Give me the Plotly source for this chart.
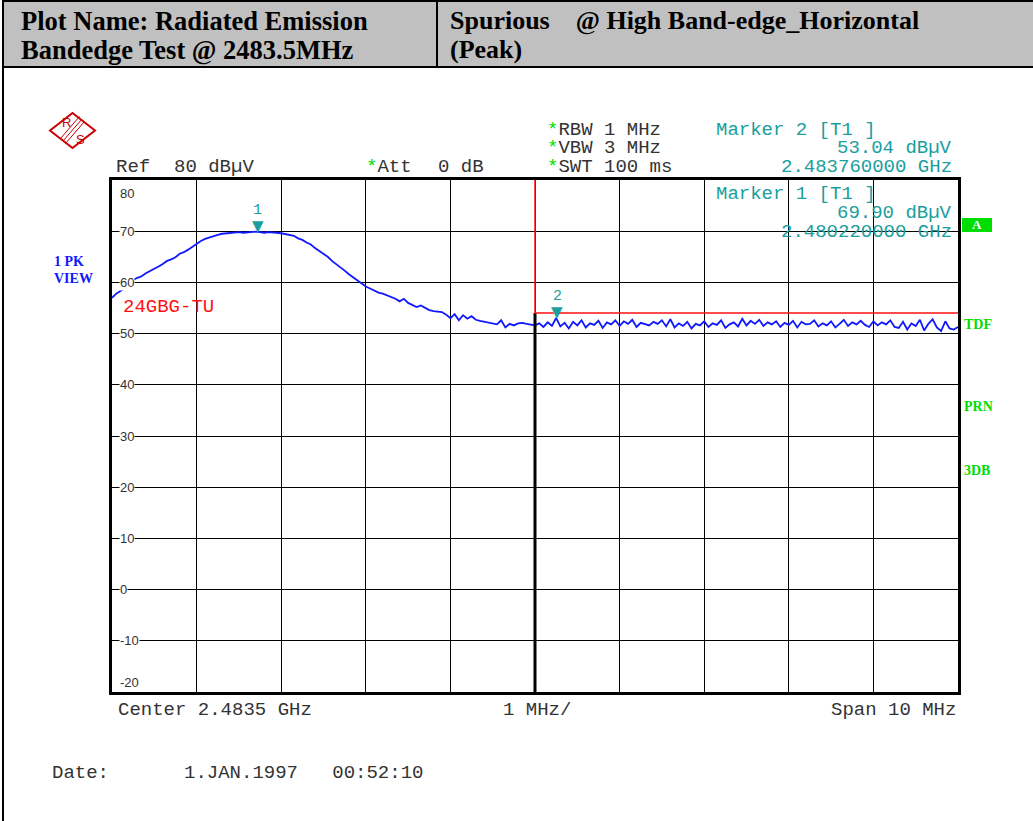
import numpy as np
import plotly.graph_objects as go

# ---------------- data ----------------
center_ghz = 2.4835
span_mhz = 10.0
ref_level = 80
y_min = -20
limit_level = 54.0
band_edge_ghz = 2.4835

# trace levels (dBuV), 201 sweep points, 0.05 MHz apart
levels = [
    57.0, 57.8, 58.3, 58.8, 59.9, 60.5, 60.9, 61.2, 61.8, 62.2, 62.7, 63.1, 63.6, 64.2, 64.5, 64.9, 65.6, 65.9, 66.4, 67.0,
    67.6, 68.1, 68.5, 68.8, 69.1, 69.3, 69.5, 69.6, 69.7, 69.8, 69.8, 69.7, 69.8, 69.8, 69.9, 69.8, 69.7, 69.8, 69.8, 69.7,
    69.6, 69.4, 69.3, 69.1, 68.6, 68.3, 67.8, 67.4, 66.7, 66.1, 65.6, 65.0, 64.2, 63.6, 62.9, 62.3, 61.6, 61.0, 60.4, 59.8,
    59.2, 58.8, 58.4, 58.0, 57.8, 57.5, 57.1, 56.8, 56.3, 56.8, 56.0, 55.6, 55.2, 55.5, 55.0, 54.6, 54.4, 54.3, 54.2, 53.7,
    53.0, 53.8, 52.6, 53.6, 52.9, 53.4, 52.7, 52.5, 52.3, 52.1, 52.0, 51.8, 52.6, 51.2, 51.9, 51.6, 52.0, 52.1, 51.9, 51.7,
    51.6, 52.0, 51.3, 52.2, 51.5, 53.04, 51.4, 52.1, 51.0, 52.3, 51.6, 52.6, 51.2, 52.0, 51.7, 52.5, 51.1, 52.2, 51.8, 52.6,
    51.5, 52.4, 51.9, 52.7, 51.3, 52.1, 51.8, 51.6, 52.3, 51.9, 52.6, 51.4, 52.8, 51.2, 52.0, 51.5, 52.3, 51.0, 51.9, 51.6,
    52.4, 51.3, 52.0, 51.7, 52.6, 51.1, 51.8, 52.2, 51.4, 52.9, 51.6, 52.5, 51.9, 52.7, 51.5, 52.2, 51.8, 52.4, 51.3, 52.1,
    51.7, 52.5, 51.2, 52.3, 51.8, 51.9, 52.6, 51.4, 52.0, 51.6, 52.4, 51.2, 51.9, 52.7, 51.5, 52.2, 51.8, 52.5, 51.7, 51.3,
    52.4, 51.6, 52.2, 51.8, 52.6, 51.3, 51.1, 52.3, 50.8, 52.0, 51.5, 52.7, 50.6, 51.9, 52.8, 51.2, 50.5, 52.4, 51.0, 50.8, 51.3,
]

marker_names = ["1", "2"]
marker_freq_ghz = [2.480220, 2.483760]
marker_level = [69.90, 53.04]

y_ticks = [80, 70, 60, 50, 40, 30, 20, 10, 0, -10, -20]

f_start = center_ghz - span_mhz / 2000
f_stop = center_ghz + span_mhz / 2000
freqs = np.linspace(f_start, f_stop, len(levels))

# ---------------- figure geometry ----------------
W, H = 1033, 821
PL, PR, PT, PB = 112, 958, 180, 692


def px(x):
    return x / W


def py(y):
    return 1 - y / H


TEAL = "#1a9e9e"
GREEN = "#00dd00"
GRAY = "#333333"
MONO = "Liberation Mono, Courier New, monospace"
SANS = "Liberation Sans, Arial, sans-serif"
SERIF = "Liberation Serif, Times New Roman, serif"

fig = go.Figure()

# spectrum trace
fig.add_trace(go.Scatter(x=freqs, y=levels, mode="lines",
                         line=dict(color="#1018ff", width=1.8), hoverinfo="skip"))

# display/limit lines
fig.add_trace(go.Scatter(x=[band_edge_ghz, band_edge_ghz], y=[y_min, limit_level], mode="lines",
                         line=dict(color="black", width=3), hoverinfo="skip"))
fig.add_trace(go.Scatter(x=[band_edge_ghz, band_edge_ghz, f_stop], y=[ref_level, limit_level, limit_level],
                         mode="lines", line=dict(color="#ff1010", width=1.5), hoverinfo="skip"))

fig.update_layout(
    width=W, height=H,
    margin=dict(l=0, r=0, t=0, b=0),
    paper_bgcolor="white", plot_bgcolor="white",
    showlegend=False,
    xaxis=dict(domain=[px(PL), px(PR)], range=[f_start, f_stop], dtick=0.001, tick0=f_start,
               showticklabels=False, ticks="", showgrid=True, gridcolor="black", gridwidth=1,
               zeroline=False, showline=True, linecolor="black", linewidth=3, mirror=True),
    yaxis=dict(domain=[py(PB), py(PT)], range=[y_min, ref_level], dtick=10, tick0=0,
               showticklabels=False, ticks="", showgrid=True, gridcolor="black", gridwidth=1,
               zeroline=False, showline=True, linecolor="black", linewidth=3, mirror=True),
)

shapes = []
# header box
shapes.append(dict(type="rect", xref="paper", yref="paper", x0=px(3), x1=px(1040), y0=py(67), y1=py(1),
                   fillcolor="#c0c0c0", line=dict(color="black", width=2), layer="below"))
shapes.append(dict(type="line", xref="paper", yref="paper", x0=px(437), x1=px(437), y0=py(67), y1=py(1),
                   line=dict(color="black", width=2)))
# page left border
shapes.append(dict(type="line", xref="paper", yref="paper", x0=px(3), x1=px(3), y0=py(830), y1=py(67),
                   line=dict(color="black", width=2)))
# R&S logo
cx, cy, hw, hh = 72.5, 130.5, 22.5, 17.5
path = (f"M {px(cx)} {py(cy-hh)} L {px(cx+hw)} {py(cy)} L {px(cx)} {py(cy+hh)} "
        f"L {px(cx-hw)} {py(cy)} Z")
shapes.append(dict(type="path", xref="paper", yref="paper", path=path,
                   line=dict(color="#cc0000", width=2)))
for d in (-2.5, 0, 2.5):
    shapes.append(dict(type="line", xref="paper", yref="paper",
                       x0=px(82 + d), y0=py(119 + d), x1=px(63 + d), y1=py(141 + d),
                       line=dict(color="#cc0000", width=1)))
# green "A" box
shapes.append(dict(type="rect", xref="paper", yref="paper", x0=px(962), x1=px(992), y0=py(232), y1=py(218),
                   fillcolor=GREEN, line=dict(width=0)))
fig.update_layout(shapes=shapes)

ann = []


def text(x, y, s, size=19, color=GRAY, font=MONO, xanchor="left", yanchor="middle", **kw):
    ann.append(dict(x=px(x), y=py(y), xref="paper", yref="paper", text=s, showarrow=False,
                    xanchor=xanchor, yanchor=yanchor, font=dict(family=font, size=size, color=color), **kw))


# header texts
text(19, 21, "<b>Plot Name: Radiated Emission</b>", size=26.5, color="black", font=SERIF)
text(19, 50, "<b>Bandedge Test @ 2483.5MHz</b>", size=26.5, color="black", font=SERIF)
text(448, 21, "<b>Spurious    @ High Band-edge_Horizontal</b>", size=26, color="black", font=SERIF)
text(448, 50, "<b>(Peak)</b>", size=26, color="black", font=SERIF)

# logo letters
text(66, 123, "R", size=13, color="#cc0000", font=SANS, xanchor="center")
text(80, 139, "S", size=13, color="#cc0000", font=SANS, xanchor="center")

# instrument settings
star = f"<span style='color:{GREEN}'>*</span>"
text(114, 167, "Ref")
text(172, 167, "80 dBµV")
text(364, 167, star + "Att")
text(436, 167, "0 dB")
text(545, 130, star + "RBW 1 MHz")
text(545, 148, star + "VBW 3 MHz")
text(545, 167, star + "SWT 100 ms")

# marker readouts
text(714, 130, "Marker 2 [T1 ]", color=TEAL)
text(954, 148, "53.04 dBµV", color=TEAL, xanchor="right")
text(954, 167, "2.483760000 GHz", color=TEAL, xanchor="right")
text(714, 194, "Marker 1 [T1 ]", color=TEAL)
text(954, 213, "69.90 dBµV", color=TEAL, xanchor="right")
text(954, 232, "2.480220000 GHz", color=TEAL, xanchor="right")

# left labels
text(52, 261, "<b>1 PK</b>", size=14, color="#1018ff", font=SERIF)
text(52, 278, "<b>VIEW</b>", size=14, color="#1018ff", font=SERIF)
text(121, 307, "24GBG-TU", color="#ff1010")

# right side labels
text(977, 225, "<b>A</b>", size=13, color="white", font=SERIF, xanchor="center")
text(962, 324, "<b>TDF</b>", size=14, color=GREEN, font=SERIF)
text(962, 406, "<b>PRN</b>", size=14, color=GREEN, font=SERIF)
text(962, 470, "<b>3DB</b>", size=14, color=GREEN, font=SERIF)

# bottom texts
text(116, 710, "Center 2.4835 GHz")
text(537, 710, "1 MHz/", xanchor="center")
text(958, 710, "Span 10 MHz", xanchor="right")
text(50, 773, "Date:")
text(182, 773, "1.JAN.1997   00:52:10")

# y tick labels inside plot
for v in y_ticks:
    shift = 0
    if v == ref_level:
        shift = -13
    elif v == y_min:
        shift = 10
    ann.append(dict(x=px(119), y=v, xref="paper", yref="y", text=str(v), showarrow=False,
                    xanchor="left", yanchor="middle", yshift=shift, bgcolor="white", borderpad=0,
                    font=dict(family=SANS, size=13, color=GRAY)))

# markers
for name, f, lv in zip(marker_names, marker_freq_ghz, marker_level):
    ann.append(dict(x=f, y=lv, xref="x", yref="y", text="▼", showarrow=False, yanchor="bottom",
                    yshift=-5, font=dict(family="DejaVu Sans", size=15, color=TEAL)))
    ann.append(dict(x=f, y=lv, xref="x", yref="y", text=name, showarrow=False, yanchor="bottom",
                    yshift=11, font=dict(family=MONO, size=15, color=TEAL)))

fig.update_layout(annotations=ann)
fig.write_html("out.html", config={"displayModeBar": False},
               post_script="document.body.style.margin='0';document.body.style.overflow='hidden';")
